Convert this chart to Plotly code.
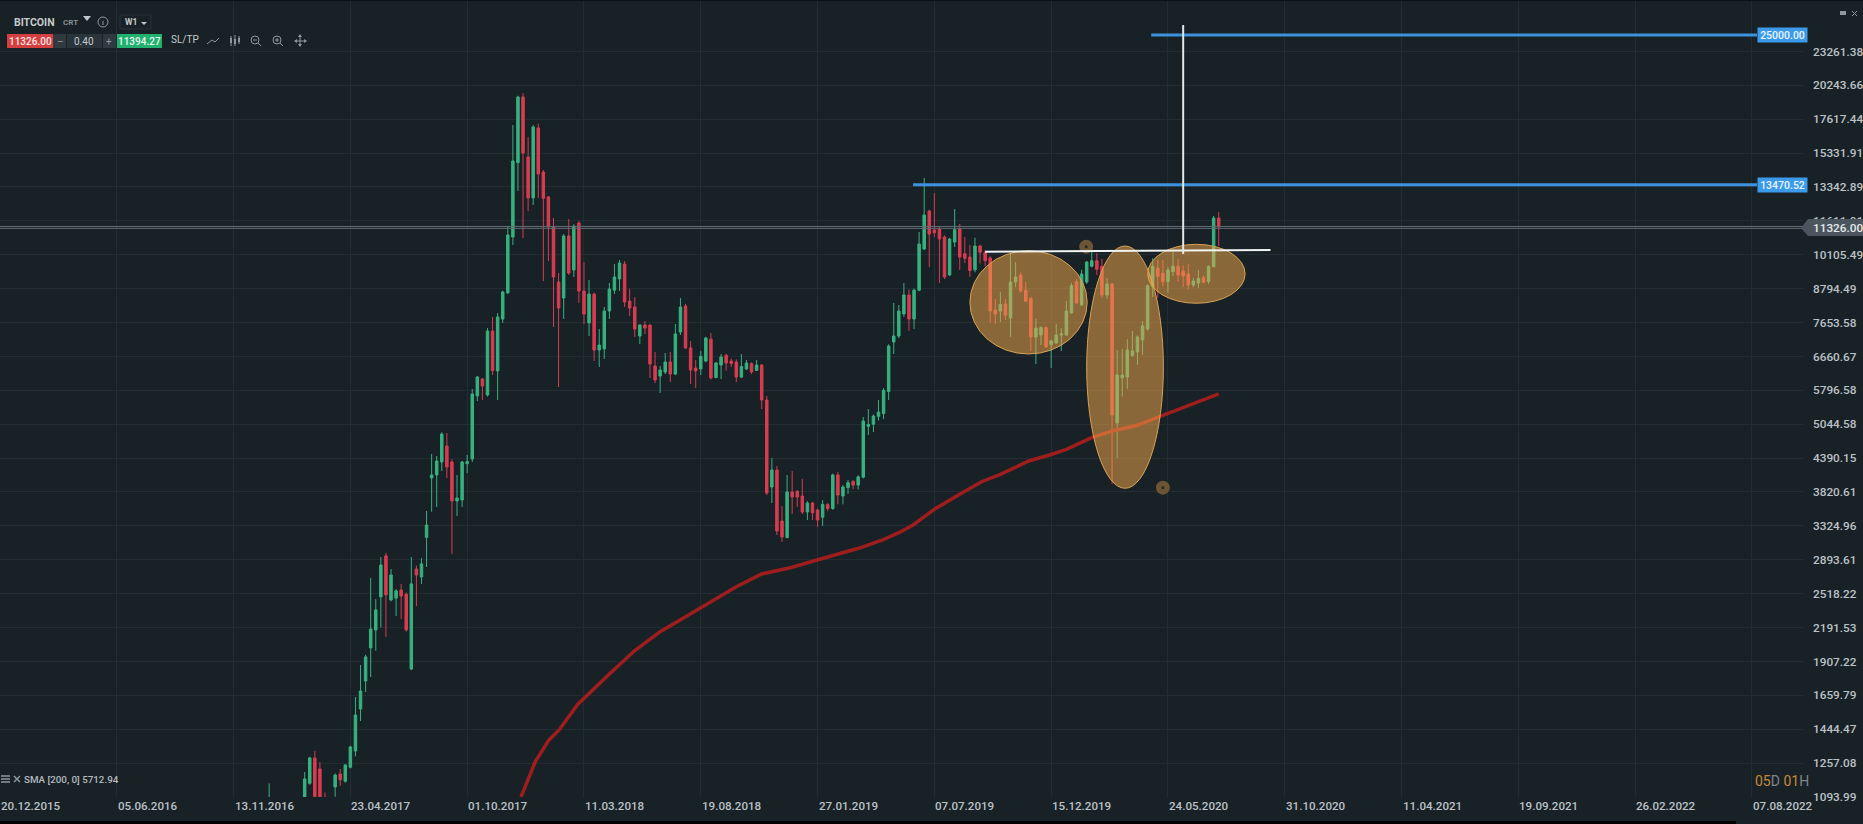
import math

import plotly.graph_objects as go

# weekly bars, the axis counts bars and labels every 23rd one
first_bar = 53
open_prices = [
    960, 1015, 900, 820, 910, 900, 915, 1010, 1157, 1284,
    1227, 1075, 1030, 1140, 1202, 1167, 1236, 1321, 1569, 1760,
    2016, 2170, 2485, 2940, 2454, 2473, 2556, 2512, 1849, 2786,
    2697, 3172, 4046, 4097, 4320, 4613, 4320, 3682, 3697, 4290,
    4374, 5664, 6072, 5686, 7392, 6275, 7765, 8645, 10869, 14737,
    19295, 15086, 12756, 17000, 14185, 12810, 11323, 9037, 8463, 10913,
    9493, 11512, 8709, 7640, 8603, 6838, 6870, 8024, 8740, 9149,
    9729, 8360, 8157, 7242, 7577, 7577, 6404, 6147, 6248, 6510,
    6197, 7361, 8190, 6895, 6352, 6326, 6537, 7150, 6110, 6431,
    6692, 6537, 6510, 6120, 6326, 6470, 6290, 6431, 5570, 3900,
    4181, 3392, 3170, 3821, 3830, 3758, 3519, 3652, 3549, 3445,
    3628, 3570, 4097, 3758, 3890, 3990, 3930, 4060, 5000, 5045,
    5210, 5270, 5770, 7066, 7242, 7926, 8568, 7765, 8740, 10347,
    12089, 11182, 11230, 10869, 9300, 10648, 11240, 10150, 10012, 9500,
    10475, 10190, 9971, 8060, 8024, 8260, 7798, 9037, 9300, 8740,
    8450, 7213, 7272, 7495, 6990, 7040, 7272, 7272, 7960, 9050,
    8225, 9037, 9640, 9860, 9640, 8568, 8960, 5070, 6100, 6122,
    6690, 6783, 7126, 7453, 8870, 9570, 9370, 9050, 9430, 9640,
    9450, 9340, 8930, 9000, 9200, 9060, 9625, 11750,
]
high_prices = [
    1157, 1060, 925, 920, 930, 925, 1020, 1212, 1290, 1321,
    1262, 1114, 1090, 1205, 1227, 1252, 1350, 1649, 1880, 1960,
    2686, 2462, 2926, 2976, 2786, 2565, 2621, 2530, 2926, 2825,
    2915, 3534, 4465, 4428, 4880, 4866, 4370, 4097, 4340, 4446,
    5828, 6150, 6100, 7483, 7830, 7959, 8720, 11367, 17200, 19400,
    19616, 16376, 17200, 17300, 14300, 12850, 11750, 9377, 11000, 11700,
    11450, 11600, 9810, 9112, 8650, 7453, 8157, 9000, 9729, 9891,
    9850, 8794, 8498, 7600, 7702, 7600, 6783, 6404, 6754, 6783,
    7608, 8463, 8260, 7096, 6565, 6810, 7220, 7332, 6510, 6727,
    6730, 6600, 6580, 6727, 6565, 6500, 6565, 6450, 5664, 4390,
    4250, 3607, 4097, 4164, 3850, 4029, 3680, 3670, 3570, 3697,
    3650, 4120, 4150, 3930, 4015, 4010, 4090, 5195, 5369, 5250,
    5570, 5850, 7000, 8292, 8224, 9000, 8760, 8800, 11093, 13843,
    12150, 13020, 11340, 10940, 10830, 12190, 11465, 10869, 10518, 10840,
    10530, 10290, 10050, 8428, 8674, 8428, 10177, 9810, 9410, 9037,
    8498, 7775, 7530, 7530, 7130, 7608, 7483, 8360, 9000, 9150,
    9500, 9850, 10431, 10170, 9930, 9180, 9000, 6838, 6870, 7150,
    7392, 7260, 7700, 8950, 9960, 9900, 9890, 9610, 10230, 9930,
    9670, 9729, 9200, 9480, 9290, 9680, 11850, 12036,
]
low_prices = [
    890, 880, 810, 780, 885, 880, 905, 1000, 1150, 1085,
    1060, 980, 960, 1095, 1145, 1160, 1230, 1292, 1494, 1682,
    1789, 1993, 2192, 2109, 2440, 2297, 2270, 2155, 1840, 2394,
    2621, 2809, 3524, 3593, 4164, 4046, 2963, 3462, 3593, 4130,
    4320, 5548, 5570, 5650, 6172, 5570, 7640, 8600, 10518, 13128,
    10824, 12089, 12395, 12756, 9075, 9850, 7516, 5876, 7765, 9300,
    9225, 8292, 7608, 7242, 6537, 6378, 6590, 7765, 8603, 8709,
    8157, 7860, 7213, 7010, 7302, 6097, 5973, 5734, 6197, 5997,
    6170, 7272, 6870, 5948, 5851, 6172, 6500, 6060, 6090, 6072,
    6282, 6380, 5997, 6097, 6300, 6197, 6275, 5369, 3773, 3652,
    3203, 3112, 3160, 3491, 3593, 3491, 3406, 3406, 3310, 3323,
    3530, 3550, 3632, 3632, 3790, 3865, 3860, 4040, 4827, 4886,
    5120, 5150, 5570, 6727, 7180, 7830, 7392, 7453, 8700, 10300,
    9611, 10869, 9000, 9150, 9260, 10431, 9493, 9769, 9225, 9400,
    9750, 9640, 7654, 7608, 7670, 7734, 7213, 8850, 8645, 8330,
    6810, 6457, 6981, 6900, 6352, 7010, 6810, 7250, 7930, 8250,
    8200, 8960, 9600, 9300, 8470, 8430, 3950, 4390, 5650, 5830,
    6645, 6431, 6700, 7400, 8500, 8470, 8880, 8640, 9260, 9040,
    8850, 8760, 8850, 8820, 8990, 8960, 9600, 10475,
]
close_prices = [
    1020, 900, 820, 910, 900, 915, 1010, 1178, 1284, 1096,
    1085, 1000, 1085, 1197, 1174, 1247, 1343, 1531, 1689, 1943,
    2178, 2356, 2832, 2506, 2719, 2547, 2494, 2170, 2621, 2719,
    2845, 3337, 4097, 4338, 4846, 4233, 3682, 3728, 4320, 4329,
    5709, 6122, 5900, 7392, 6282, 7830, 8674, 10957, 14842, 19295,
    15337, 12756, 17066, 14069, 12740, 11323, 9225, 8123, 10913, 9377,
    11367, 8709, 7926, 8603, 6838, 6981, 8024, 8781, 9225, 9769,
    8325, 8123, 7453, 7577, 7483, 6457, 6047, 6299, 6510, 6197,
    7302, 8157, 6895, 6299, 6275, 6661, 7183, 6097, 6484, 6645,
    6484, 6470, 6120, 6390, 6484, 6248, 6431, 5570, 3805, 4181,
    3256, 3177, 3821, 3743, 3743, 3519, 3652, 3510, 3406, 3632,
    3570, 4097, 3773, 3900, 3970, 3930, 4065, 5111, 5040, 5217,
    5300, 5797, 6951, 7242, 8024, 8568, 7765, 8740, 10562, 11895,
    11000, 11062, 10779, 9225, 10779, 11200, 10012, 9960, 9470, 10475,
    10210, 9860, 8024, 7926, 8240, 7890, 9037, 9225, 8709, 8350,
    7213, 7483, 7495, 6925, 7100, 7272, 7302, 8024, 8900, 8290,
    9340, 9810, 9860, 9520, 8568, 8960, 5238, 6172, 6172, 6838,
    6810, 7213, 7550, 8900, 9640, 9250, 9050, 9490, 9640, 9300,
    9260, 8930, 9075, 9170, 9030, 9625, 11750, 11326,
]

# SMA 200
sma_bars = [
    102.6, 105.4, 108, 110.1, 113.8, 116.6, 119.8, 124.9, 130, 135.6, 141.7, 145,
    150, 155.2, 160.9, 165.4, 169.1, 173.8, 177, 179.8, 184, 189, 193.3, 197,
    202.6, 206.7, 210, 215.1, 219.3, 223.9, 228.6, 232.3, 236, 240,
]
sma_values = [
    1094, 1264, 1378, 1440, 1600, 1696, 1804, 1990, 2155, 2307, 2487, 2591,
    2730, 2794, 2891, 2963, 3033, 3138, 3233, 3337, 3559, 3785, 3985, 4108,
    4338, 4446, 4551, 4781, 4912, 5022, 5217, 5384, 5531, 5712.94,
]

price_ticks = [
    23261.38, 20243.66, 17617.44, 15331.91, 13342.89, 11611.01, 10105.49, 8794.49,
    7653.58, 6660.67, 5796.58, 5044.58, 4390.15, 3820.61, 3324.96, 2893.61,
    2518.22, 2191.53, 1907.22, 1659.79, 1444.47, 1257.08, 1093.99,
]
date_ticks = [
    "20.12.2015", "05.06.2016", "13.11.2016", "23.04.2017", "01.10.2017",
    "11.03.2018", "19.08.2018", "27.01.2019", "07.07.2019", "15.12.2019",
    "24.05.2020", "31.10.2020", "11.04.2021", "19.09.2021", "26.02.2022",
    "07.08.2022",
]
bars_per_tick = 23
date_tick_bars = [i * bars_per_tick for i in range(len(date_ticks))]

bid = 11326.00
ask = 11394.27
# the two grey price lines
price_lines = [11262, 11350]
# target lines: label text and where the line sits on the axis
target_labels = [25000.00, 13470.52]
target_levels = [24880, 13470.52]
target_starts = [226.7, 179.8]
target_label_bar = 346

# drawn on the chart: neckline, measured move, the three orange zones and their handles
neck_bars = [194, 250.2]
neck_prices = [10232, 10305]
move_bar = 233
move_prices = [10136, 25918]
zone_bars = [(191, 214.1), (214, 229.1), (226, 245.2)]
zone_prices = [(6727, 10275), (3879, 10475), (8282, 10548)]
handle_bars = [213.9, 229]
handle_prices = [10447, 3889]

BG = "#182126"
GRID = "#222c32"
GREEN = "#37b17f"
RED = "#d83c50"
TEXT = "#bcc2c6"
ICON = "#8f979c"

# pixel layout of the page
W, H = 1863, 824
PLOT_R, PLOT_B = 1803, 797


def px(x):
    return x / PLOT_R


def py(y):
    return 1 - y / PLOT_B


def box(x0, y0, x1, y1, fill, line=None):
    return dict(type="rect", xref="paper", yref="paper", x0=px(x0), x1=px(x1),
                y0=py(y0), y1=py(y1), fillcolor=fill,
                line=dict(color=line or fill, width=1 if line else 0), layer="above")


def seg(x0, y0, x1, y1, color, width=1):
    return dict(type="line", xref="paper", yref="paper", x0=px(x0), x1=px(x1),
                y0=py(y0), y1=py(y1), line=dict(color=color, width=width), layer="above")


def ring(x0, y0, x1, y1, color, width=1):
    return dict(type="circle", xref="paper", yref="paper", x0=px(x0), x1=px(x1),
                y0=py(y0), y1=py(y1), line=dict(color=color, width=width), layer="above")


def poly(points, fill):
    path = "M " + " L ".join(f"{px(x)} {py(y)}" for x, y in points) + " Z"
    return dict(type="path", xref="paper", yref="paper", path=path,
                fillcolor=fill, line=dict(width=0), layer="above")


def label(x, y, text, size=10, color=TEXT, anchor="left", weight="normal", **kw):
    return dict(xref="paper", yref="paper", x=px(x), y=py(y), text=text, showarrow=False,
                xanchor=anchor, yanchor="middle", borderpad=0,
                font=dict(family="Roboto", size=size, color=color, weight=weight), **kw)


bars = list(range(first_bar, first_bar + len(open_prices)))

fig = go.Figure()
fig.add_trace(go.Candlestick(
    x=bars, open=open_prices, high=high_prices, low=low_prices, close=close_prices,
    increasing=dict(line=dict(color=GREEN, width=1), fillcolor=GREEN),
    decreasing=dict(line=dict(color=RED, width=1), fillcolor=RED),
    whiskerwidth=0, hoverinfo="skip",
))
fig.add_trace(go.Scatter(
    x=sma_bars, y=sma_values, mode="lines",
    line=dict(color="#a01d1d", width=3.5), hoverinfo="skip",
))

shapes = []

for level in price_lines:
    shapes.append(dict(type="line", xref="paper", yref="y", x0=0, x1=1, y0=level, y1=level,
                       line=dict(color="#646e75", width=1), layer="above"))

for i0_i1, p0_p1 in zip(zone_bars, zone_prices):
    shapes.append(dict(type="circle", xref="x", yref="y",
                       x0=i0_i1[0], x1=i0_i1[1], y0=p0_p1[0], y1=p0_p1[1],
                       fillcolor="rgba(243,168,72,0.52)",
                       line=dict(color="#d9a254", width=1), layer="above"))

for level, start in zip(target_levels, target_starts):
    shapes.append(dict(type="line", xref="x", yref="y", x0=start, x1=target_label_bar,
                       y0=level, y1=level, line=dict(color="#3d92de", width=3), layer="above"))

shapes.append(dict(type="line", xref="x", yref="y", x0=neck_bars[0], x1=neck_bars[1],
                   y0=neck_prices[0], y1=neck_prices[1],
                   line=dict(color="#f2f4f4", width=2), layer="above"))
shapes.append(dict(type="line", xref="x", yref="y", x0=move_bar, x1=move_bar,
                   y0=move_prices[0], y1=move_prices[1],
                   line=dict(color="#e4e7e8", width=2), layer="above"))

# last price tag on the axis
shapes.append(poly([(1801, 228), (1808, 219), (1863, 219), (1863, 236), (1808, 236)], "#4b555e"))

# toolbar
shapes += [
    poly([(83, 16), (91, 16), (87, 21)], "#c2c7ca"),
    ring(98, 17, 108, 27, ICON),
    seg(103, 21, 103, 25, ICON),
    box(120, 15, 151, 29, BG, "#29333a"),
    poly([(141, 22), (147, 22), (144, 25)], "#c2c7ca"),
    box(7, 34, 53, 48, "#d63f3f"),
    box(53, 34, 66, 48, "#2f393f"),
    box(67, 34, 102, 48, "#2a343a"),
    box(103, 34, 116, 48, "#2f393f"),
    box(117, 34, 162, 48, "#22b06f"),
    # line icon
    seg(207, 44, 212, 40, ICON), seg(212, 40, 215, 42, ICON), seg(215, 42, 219, 38, ICON),
    # candle icon
    seg(231, 36, 231, 46, ICON), seg(235, 35, 235, 46, ICON), seg(239, 36, 239, 44, ICON),
    box(230, 38, 232, 43, ICON), box(234, 39, 236, 44, ICON), box(238, 38, 240, 42, ICON),
    # zoom icons
    ring(251, 36, 259, 44, ICON), seg(258, 43, 261, 46, ICON), seg(253, 40, 257, 40, ICON),
    ring(273, 36, 281, 44, ICON), seg(280, 43, 283, 46, ICON),
    seg(275, 40, 279, 40, ICON), seg(277, 38, 277, 42, ICON),
    # move icon
    seg(295, 41, 306, 41, ICON), seg(300, 35, 300, 46, ICON),
    poly([(300, 34), (298, 37), (302, 37)], ICON), poly([(300, 47), (298, 44), (302, 44)], ICON),
    poly([(294, 41), (297, 39), (297, 43)], ICON), poly([(307, 41), (304, 39), (304, 43)], ICON),
    # SMA legend icons
    seg(1, 776, 10, 776, ICON, 1.5), seg(1, 779, 10, 779, ICON, 1.5), seg(1, 782, 10, 782, ICON, 1.5),
    seg(14, 776, 20, 782, ICON, 1.5), seg(20, 776, 14, 782, ICON, 1.5),
    # window buttons
    box(1840, 11, 1846, 15, ICON),
    seg(1852, 11, 1857, 16, ICON), seg(1857, 11, 1852, 16, ICON),
    # tile edges
    box(0, 821, 1736, 824, "#000000"),
    box(0, 0, 1863, 1, "#0c1114"),
]

annotations = []

for tick, name in zip(date_tick_bars, date_ticks):
    annotations.append(dict(xref="x", yref="paper", x=tick, y=0, yshift=-9, text=name,
                            showarrow=False, xanchor="left", yanchor="middle", borderpad=0,
                            font=dict(family="Roboto", size=11.6, color=TEXT, weight=500)))

for level, name in zip(target_levels, target_labels):
    annotations.append(dict(xref="x", yref="y", x=target_label_bar, y=math.log10(level),
                            text=f"{name:.2f}", showarrow=False, xanchor="left", yanchor="middle",
                            width=49, height=14, bgcolor="#3b9bea", borderpad=0,
                            font=dict(family="Roboto", size=10.5, color="#e9f4fd", weight=500)))

annotations += [
    label(1812, 228, f"{bid:.2f}", size=11.8, color="#e6e9ea", weight=500),
    label(13, 22, "BITCOIN", size=10.5, color="#c6cbce", weight="bold"),
    label(62, 23, "CRT", size=8, color="#858d92", weight="bold"),
    label(124, 22, "W1", size=8.5, color="#c6cbce", weight="bold"),
    label(30, 41, f"{bid:.2f}", size=10, color="#f5e6e6", anchor="center", weight=500),
    label(60, 41, "–", size=10, color=ICON, anchor="center"),
    label(84, 41, "0.40", size=10, color="#c6cbce", anchor="center"),
    label(109, 41, "+", size=10, color=ICON, anchor="center"),
    label(139, 41, f"{ask:.2f}", size=10, color="#e6f5ee", anchor="center", weight=500),
    label(170, 40, "SL/TP", size=10, color="#c6cbce"),
    label(23, 779, "SMA [200, 0] 5712.94", size=9.8, color="#b4babe", weight=500),
    label(1754, 781, '<span style="color:#c48a35">05</span>D '
                     '<span style="color:#c48a35">01</span>H', size=14, color="#7f878c"),
]

fig.add_trace(go.Scatter(
    x=handle_bars, y=handle_prices, mode="markers",
    marker=dict(size=14, color="#6c5535"), hoverinfo="skip", cliponaxis=False,
))
fig.add_trace(go.Scatter(
    x=handle_bars, y=handle_prices, mode="markers",
    marker=dict(size=3, color="#2a2622"), hoverinfo="skip", cliponaxis=False,
))

fig.update_layout(
    width=W, height=H,
    margin=dict(l=0, r=W - PLOT_R, t=0, b=H - PLOT_B, pad=0),
    paper_bgcolor=BG, plot_bgcolor=BG,
    showlegend=False,
    shapes=shapes, annotations=annotations,
    xaxis=dict(range=[0, 355.06], rangeslider=dict(visible=False), tickvals=date_tick_bars,
               showticklabels=False, ticks="", showgrid=True, gridcolor=GRID, gridwidth=1,
               zeroline=False, showline=False),
    yaxis=dict(type="log", range=[3.0390, 4.4582], side="right", tickvals=price_ticks,
               ticktext=[f"{t:.2f}" for t in price_ticks], ticks="", ticklabelstandoff=9,
               tickfont=dict(family="Roboto", size=11.8, color=TEXT, weight=500),
               showgrid=True, gridcolor=GRID, gridwidth=1, zeroline=False, showline=False),
)

# the page keeps the browser's default body margin otherwise
fig.write_html("out.html", config=dict(displayModeBar=False),
               post_script="document.body.style.margin='0';")
